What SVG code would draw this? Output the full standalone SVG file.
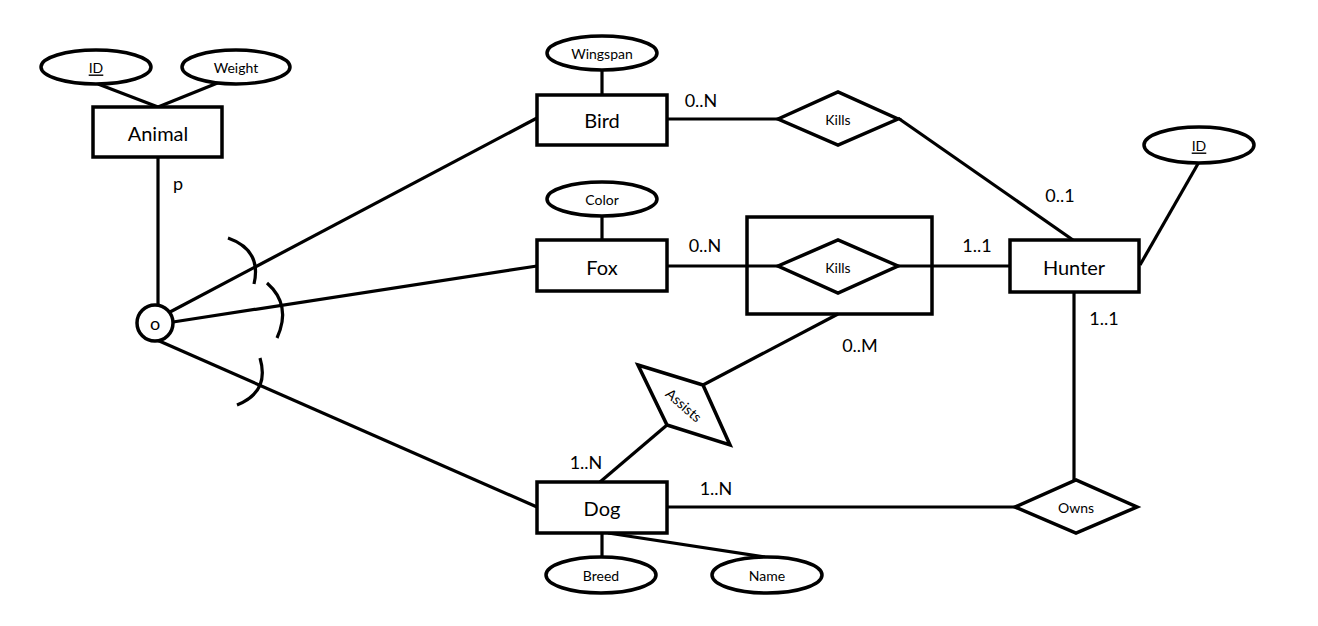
<svg xmlns="http://www.w3.org/2000/svg" width="1318" height="626" viewBox="0 0 1318 626">
<style>
.s{fill:#fff;stroke:#000;stroke-width:3.5}
.l{fill:none;stroke:#000;stroke-width:3.2}
.big{font-family:Lato,"Open Sans",sans-serif;font-size:20px;text-anchor:middle;dominant-baseline:central;fill:#000}
.sm{font-family:Lato,"Open Sans",sans-serif;font-size:14px;text-anchor:middle;dominant-baseline:central;fill:#000}
.card{font-family:Lato,"Open Sans",sans-serif;font-size:18px;text-anchor:middle;dominant-baseline:central;fill:#000}
</style>
<rect width="1318" height="626" fill="#fff"/>
<g id="connectors">
<line class="l" x1="98" y1="84" x2="158" y2="107"/>
<line class="l" x1="220" y1="82" x2="158" y2="107"/>
<line class="l" x1="158" y1="157" x2="158" y2="304"/>
<line class="l" x1="170" y1="312" x2="537" y2="118"/>
<line class="l" x1="173" y1="322" x2="537" y2="266"/>
<line class="l" x1="157" y1="340" x2="537" y2="507"/>
<path class="l" d="M228 238 Q262 250 254 284"/>
<path class="l" d="M267 283 Q292 305 277 338"/>
<path class="l" d="M260 358 Q270 392 237 405"/>
<line class="l" x1="602" y1="70" x2="602" y2="95"/>
<line class="l" x1="667" y1="119" x2="778" y2="119"/>
<line class="l" x1="898" y1="118" x2="1073" y2="240"/>
<line class="l" x1="602" y1="216" x2="602" y2="240"/>
<line class="l" x1="667" y1="266" x2="778" y2="266"/>
<line class="l" x1="898" y1="266" x2="1010" y2="266"/>
<line class="l" x1="1199" y1="162" x2="1140" y2="265"/>
<line class="l" x1="1074" y1="292" x2="1074" y2="480"/>
<line class="l" x1="667" y1="507" x2="1015" y2="507"/>
<line class="l" x1="703" y1="385" x2="838" y2="314"/>
<line class="l" x1="667" y1="425" x2="600" y2="482"/>
<line class="l" x1="602" y1="533" x2="602" y2="557"/>
<line class="l" x1="608" y1="533" x2="765" y2="557"/>
</g>
<g id="animal"><rect class="s" x="93" y="107" width="129" height="50"/><text class="big" x="158" y="133">Animal</text></g>
<g id="animal-id"><ellipse class="s" cx="96" cy="67" rx="55" ry="17"/><text class="sm" x="96" y="67" text-decoration="underline">ID</text></g>
<g id="animal-weight"><ellipse class="s" cx="236" cy="67" rx="54" ry="17"/><text class="sm" x="236" y="67">Weight</text></g>
<g id="disjoint"><circle class="s" cx="155" cy="323" r="18"/><text class="big" x="155" y="323" style="font-size:18px">o</text></g>
<g id="bird"><rect class="s" x="537" y="95" width="130" height="50"/><text class="big" x="602" y="120">Bird</text></g>
<g id="wingspan"><ellipse class="s" cx="602" cy="53" rx="55" ry="17"/><text class="sm" x="602" y="53">Wingspan</text></g>
<g id="kills-bird"><polygon class="s" points="778,119 838,92 898,119 838,145"/><text class="sm" x="838" y="119">Kills</text></g>
<g id="fox"><rect class="s" x="537" y="240" width="130" height="51"/><text class="big" x="602" y="267">Fox</text></g>
<g id="color"><ellipse class="s" cx="602" cy="199" rx="55" ry="17"/><text class="sm" x="602" y="199">Color</text></g>
<g id="kills-fox"><rect class="s" x="747" y="217" width="185" height="97" fill="none" style="fill:none"/><polygon class="s" points="778,266 838,240 898,266 838,293"/><text class="sm" x="838" y="267">Kills</text></g>
<g id="hunter"><rect class="s" x="1010" y="240" width="129" height="52"/><text class="big" x="1074" y="267">Hunter</text></g>
<g id="hunter-id"><ellipse class="s" cx="1199" cy="145" rx="55" ry="18"/><text class="sm" x="1199" y="145" text-decoration="underline">ID</text></g>
<g id="owns"><polygon class="s" points="1015,507 1076,480 1137,507 1076,533"/><text class="sm" x="1076" y="507">Owns</text></g>
<g id="assists"><polygon class="s" points="638,365 703,385 730,445 667,425"/><text class="sm" x="684" y="405" transform="rotate(41 684 405)">Assists</text></g>
<g id="dog"><rect class="s" x="537" y="482" width="130" height="51"/><text class="big" x="602" y="508">Dog</text></g>
<g id="breed"><ellipse class="s" cx="601" cy="575" rx="55" ry="18"/><text class="sm" x="601" y="575">Breed</text></g>
<g id="name"><ellipse class="s" cx="767" cy="575" rx="55" ry="18"/><text class="sm" x="767" y="575">Name</text></g>
<g id="labels">
<text class="card" x="178" y="183">p</text>
<text class="card" x="701" y="100">0..N</text>
<text class="card" x="705" y="245">0..N</text>
<text class="card" x="977" y="245">1..1</text>
<text class="card" x="1060" y="195">0..1</text>
<text class="card" x="1104" y="318">1..1</text>
<text class="card" x="860" y="345">0..M</text>
<text class="card" x="586" y="462">1..N</text>
<text class="card" x="716" y="488">1..N</text>
</g>
</svg>
